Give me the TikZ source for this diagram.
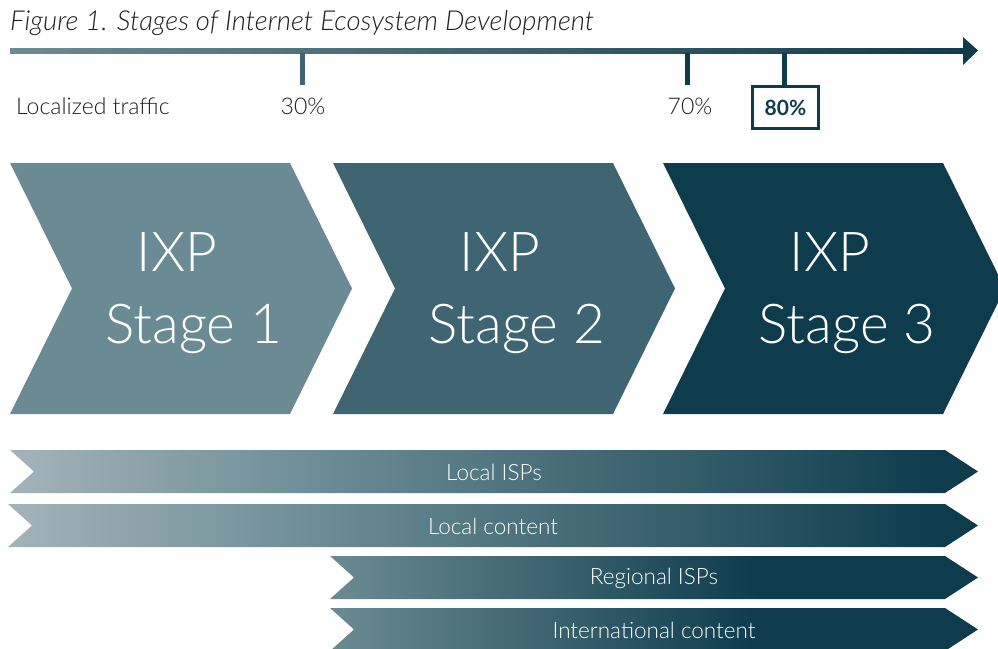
\documentclass[tikz,border=0pt]{standalone}
\usepackage{fontspec}
\setmainfont{Lato}
\newfontfamily\lightfont{Lato Light}
\usetikzlibrary{positioning}
\definecolor{tealL}{HTML}{A3B4B9}
\definecolor{tealA}{HTML}{6B8B94}
\definecolor{tealB}{HTML}{3F6472}
\definecolor{tealC}{HTML}{0E3C4C}
\definecolor{inkgrey}{HTML}{1E1E1E}
% fades for the long and the short bars (25bp..75bp spans the path)
\pgfdeclarehorizontalshading{widefade}{100bp}{color(0bp)=(tealL); color(25bp)=(tealL); color(41.5bp)=(tealA); color(73bp)=(tealC); color(100bp)=(tealC)}
\pgfdeclarehorizontalshading{shortfade}{100bp}{color(0bp)=(tealA); color(25bp)=(tealA); color(58bp)=(tealC); color(100bp)=(tealC)}

\begin{document}
\begin{tikzpicture}[x=1pt,y=-1pt,
		every node/.style={inner sep=0pt},
		axislabel/.style={anchor=base, text=inkgrey, font=\lightfont\fontsize{23}{27}\selectfont},
		ticks/.style={line width=5pt, draw=tealC},
		stagetext/.style={anchor=base, text=white, font=\lightfont\fontsize{55}{66}\selectfont},
		barlabel/.style={text=white, font=\lightfont\fontsize{22.5}{27}\selectfont}
	]
	\useasboundingbox (0,0) rectangle (998,648);

	% heading
	\node[anchor=base west, text=inkgrey, font=\lightfont\itshape\fontsize{27.5}{32}\selectfont] (title) at (10,30) {Figure 1. Stages of Internet Ecosystem Development};

	% traffic axis
	\shade[left color=tealA, right color=tealC] (10,48) rectangle (966,53);
	\fill[tealC] (963,37) -- (978,50.5) -- (963,65) -- cycle;
	\coordinate (t30) at (302,53);
	\coordinate (t70) at (687,53);
	\coordinate (t80) at (784,53);

	\node[axislabel, anchor=base west] (loc) at (16,114) {Localized traffic};
	\node[axislabel] (p30) at (303,114) {30\%};
	\node[axislabel] (p70) at (690,114) {70\%};
	\node[draw=tealC, line width=3pt, minimum width=66, minimum height=42, text=tealC, font=\bfseries\fontsize{21}{25}\selectfont] (p80) at (785.5,107.5) {80\%};

	\draw[ticks, draw=tealB] (t30) -- ++(0,32);
	\draw[ticks] (t70) -- ++(0,32);
	\draw[ticks] (t80) -- (t80 |- p80.north);

	% stage chevrons
	\foreach \x/\col/\n in {10/tealA/1, 333/tealB/2, 663/tealC/3} {
		\fill[\col] (\x,163) -- (\x+280,163) -- (\x+342,288.5) -- (\x+280,414) -- (\x,414) -- (\x+62,288.5) -- cycle;
		\node[stagetext] (ixp\n) at (\x+167,271) {IXP};
		\node[stagetext] (stage\n) at (\x+184,343) {Stage \n};
	}

	% player bars
	\foreach \x/\y/\fade/\lab [count=\i] in {10/450/widefade/Local ISPs, 8/504/widefade/Local content, 330/556/shortfade/Regional ISPs, 330/608/shortfade/International content} {
		\shade[shading=\fade] (\x,\y) -- (945,\y) -- (978,\y+21.5) -- (945,\y+43) -- (\x,\y+43) -- (\x+24,\y+21.5) -- cycle;
		\node[barlabel] (bar\i) at ({(\x+978)/2},\y+22) {\lab};
	}
\end{tikzpicture}
\end{document}
